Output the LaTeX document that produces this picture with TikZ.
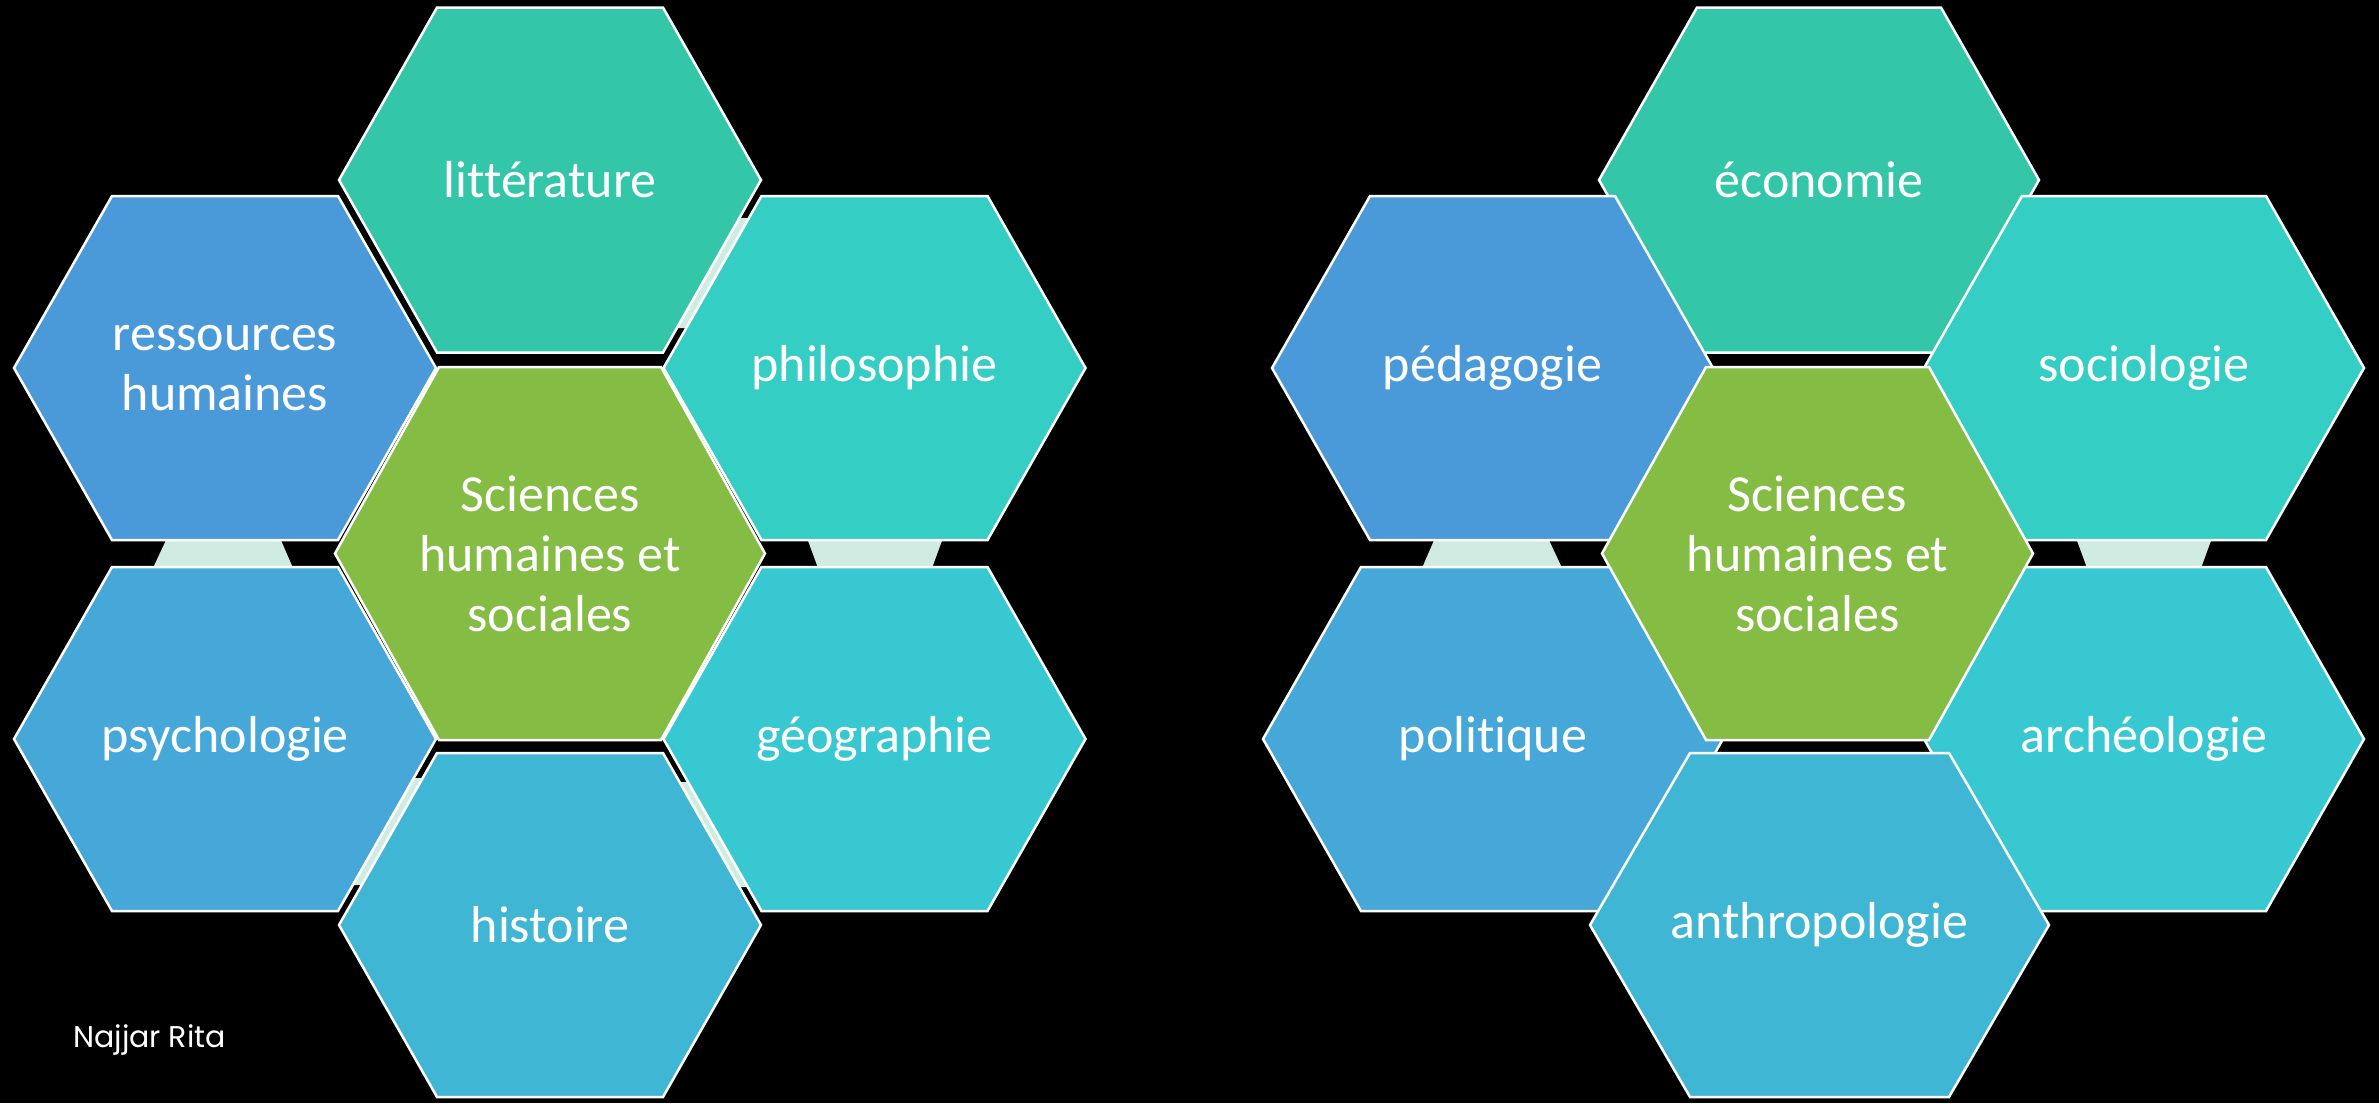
\documentclass[tikz,border=0pt]{standalone}
\usepackage{fontspec}
\setmainfont{Carlito}[Ligatures=NoCommon]
\newfontfamily\signfont{Poppins}
\definecolor{cTop}{RGB}{52,198,168}
\definecolor{cUR}{RGB}{53,206,196}
\definecolor{cLR}{RGB}{56,200,210}
\definecolor{cBot}{RGB}{63,182,212}
\definecolor{cLL}{RGB}{69,168,216}
\definecolor{cUL}{RGB}{74,154,218}
\definecolor{cMid}{RGB}{132,188,68}
\definecolor{cPale}{RGB}{207,235,226}
\tikzset{
  hexshape/.style={draw=white, line width=2.5pt, line join=miter},
  hextext/.style={text=white, align=center, font=\fontsize{52}{60}\selectfont, inner sep=0pt},
  paleconn/.style={fill=cPale},
}
% #1 name, #2 cx, #3 cy, #4 half width, #5 half height, #6 slant, #7 colour, #8 text
\newcommand{\hexcell}[8]{%
  \path[hexshape, fill=#7] (#2-#4,#3) -- (#2-#4+#6,#3-#5) -- (#2+#4-#6,#3-#5)
     -- (#2+#4,#3) -- (#2+#4-#6,#3+#5) -- (#2-#4+#6,#3+#5) -- cycle;
  \node[hextext] (#1) at (#2,#3) {#8};}
\begin{document}
\begin{tikzpicture}[x=1pt,y=-1pt]
\fill[black] (0,0) rectangle (2379,1103);
\useasboundingbox (0,0) rectangle (2379,1103);
% pale connectors (left cluster)
\fill[paleconn] (167,538) -- (280,538) -- (293,568) -- (153,568) -- cycle;
\fill[paleconn] (807,538) -- (943,538) -- (932,568) -- (818,568) -- cycle;
\fill[paleconn] (737,218) -- (752,218) -- (688,328) -- (674,328) -- cycle;
\fill[paleconn] (411,778) -- (427,778) -- (366,885) -- (350,885) -- cycle;
\fill[paleconn] (677,782) -- (692,782) -- (751,887) -- (736,887) -- cycle;
% pale connectors (right cluster)
\fill[paleconn] (1435,538) -- (1548,538) -- (1562,568) -- (1422,568) -- cycle;
\fill[paleconn] (2076,538) -- (2212,538) -- (2201,568) -- (2087,568) -- cycle;
% left cluster
\hexcell{litt}{550}{180}{211}{172.5}{98}{cTop}{littérature}
\hexcell{ress}{225}{368}{211}{172}{98}{cUL}{ressources\\humaines}
\hexcell{philo}{874.5}{368}{211}{172}{98}{cUR}{philosophie}
\hexcell{psych}{225}{739}{211}{172}{98}{cLL}{psychologie}
\hexcell{geo}{874.5}{739}{211}{172}{98}{cLR}{géographie}
\hexcell{hist}{550}{925}{211}{172}{98}{cBot}{histoire}
\hexcell{shsL}{550}{553.5}{215}{186.5}{104}{cMid}{Sciences\\humaines et\\sociales}
% right cluster
\hexcell{eco}{1819}{180}{220}{172.5}{98}{cTop}{économie}
\hexcell{peda}{1492.5}{368}{220.5}{172}{98}{cUL}{pédagogie}
\hexcell{socio}{2144}{368}{220}{172}{98}{cUR}{sociologie}
\hexcell{poli}{1493}{739}{230}{172}{98}{cLL}{politique}
\hexcell{archeo}{2144}{739}{220}{172}{98}{cLR}{archéologie}
\hexcell{anthro}{1819.5}{925}{229.5}{172}{100}{cBot}{anthropologie}
\hexcell{shsR}{1817.5}{553.5}{215.5}{186.5}{104}{cMid}{Sciences\\humaines et\\sociales}
% signature
\node[anchor=base west, text=white, inner sep=0pt, font=\signfont\fontsize{30}{34}\selectfont] (sign) at (73,1047) {Najjar Rita};
\end{tikzpicture}
\end{document}
